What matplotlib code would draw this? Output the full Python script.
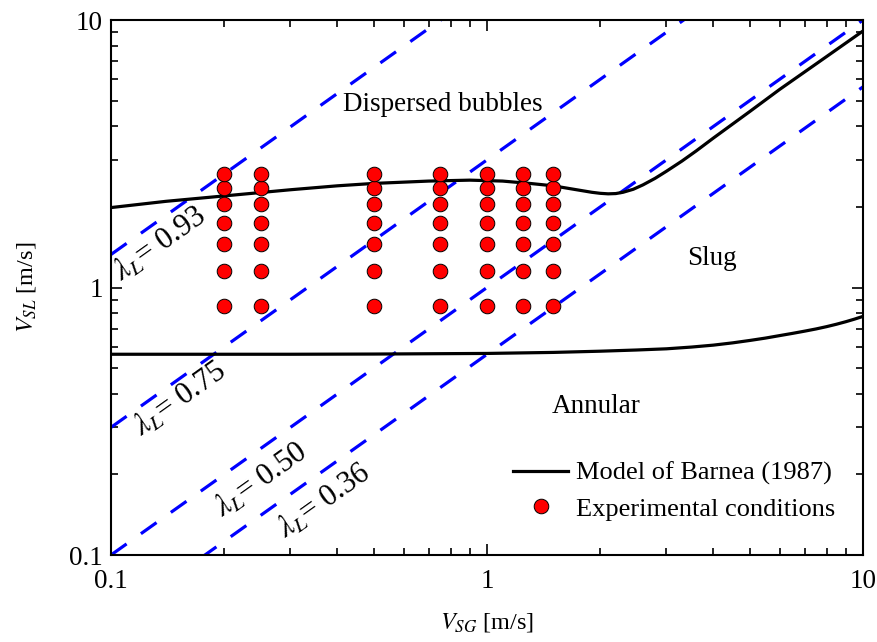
import numpy as np
import matplotlib
matplotlib.use("Agg")
import matplotlib.pyplot as plt

plt.rcParams["font.family"] = ["Liberation Serif", "DejaVu Serif"]
plt.rcParams["mathtext.fontset"] = "stix"
plt.rcParams["font.size"] = 19.5

# === Donnees
vsg_exp = [0.2, 0.25, 0.5, 0.75, 1.0, 1.25, 1.5]
vsl_exp = [0.85, 1.15, 1.45, 1.75, 2.05, 2.35, 2.65]

# frontiere bulles dispersees / slug
upper_vsg = [0.1, 0.14, 0.2, 0.3, 0.4, 0.5, 0.7, 0.9, 1.1, 1.3, 1.5, 1.7,
             1.9, 2.0, 2.1, 2.2, 2.3, 2.45, 2.6, 2.8, 3.0, 3.3, 3.6, 4.0,
             5.0, 6.0, 8.0, 10.0]
upper_vsl = [1.99, 2.1, 2.2, 2.32, 2.4, 2.45, 2.5, 2.52, 2.5, 2.45, 2.4, 2.33,
             2.27, 2.25, 2.24, 2.245, 2.27, 2.33, 2.42, 2.56, 2.72, 2.97, 3.24, 3.62,
             4.55, 5.5, 7.3, 9.1]

# frontiere slug / annulaire
lower_vsg = [0.1, 0.3, 0.5, 1.0, 1.5, 2.0, 2.5, 3.0, 3.5, 4.0, 4.5, 5.0,
             5.5, 6.0, 6.5, 7.0, 7.5, 8.0, 8.5, 9.0, 9.5, 10.0]
lower_vsl = [0.563, 0.563, 0.564, 0.567, 0.572, 0.578, 0.584, 0.59, 0.599, 0.609,
             0.621, 0.634, 0.647, 0.661, 0.674, 0.687, 0.70, 0.714, 0.729, 0.745,
             0.762, 0.78]

# lignes iso-lambda_L
lambdas = [0.93, 0.75, 0.50, 0.36]
lambda_labels = ["0.93", "0.75", "0.50", "0.36"]
label_pos = [(0.065, 0.58), (0.092, 0.29), (0.2, 0.14), (0.283, 0.101)]

# === Figure
fig = plt.figure(figsize=(8.78, 6.42), dpi=100)
ax = fig.add_axes([0.1264, 0.1355, 0.8565, 0.8333])

xl = np.array([0.1, 10.0])
for lam in lambdas:
    ax.plot(xl, xl * lam / (1 - lam), color="blue", lw=2.3,
            dashes=(6, 5.5), zorder=2)

ax.plot(upper_vsg, upper_vsl, color="black", lw=2.3, zorder=3,
        label="Model of Barnea (1987)")
ax.plot(lower_vsg, lower_vsl, color="black", lw=2.3, zorder=3)

X, Y = np.meshgrid(vsg_exp, vsl_exp)
ax.plot(X.ravel(), Y.ravel(), "o", color="red", mec="black", mew=0.7,
        ms=10.5, zorder=4, label="Experimental conditions")

ax.set_xscale("log")
ax.set_yscale("log")
ax.set_xlim(0.1, 10)
ax.set_ylim(0.1, 10)
ax.set_xticks([0.1, 1, 10])
ax.set_xticklabels(["0.1", "1", "10"])
ax.set_yticks([0.1, 1, 10])
ax.set_yticklabels(["0.1", "1", "10"])
ax.tick_params(which="both", direction="in", top=True, right=True, width=1.2)
ax.tick_params(which="major", length=8, pad=6)
ax.tick_params(axis="x", which="major", pad=10)
ax.tick_params(which="minor", length=5)
for s in ax.spines.values():
    s.set_linewidth(1.5)

ax.set_xlabel(r"$V_{SG}$ [m/s]", fontsize=17.5, labelpad=12)
ax.set_ylabel(r"$V_{SL}$ [m/s]", fontsize=17.5, labelpad=22)

# annotations
for (fx, fy), txt in zip(label_pos, lambda_labels):
    ax.text(fx, fy, r"$\lambda_L$= " + txt, transform=ax.transAxes,
            rotation=35.5, ha="center", va="center", fontsize=22,
            rotation_mode="anchor")

ax.text(0.441, 0.843, "Dispersed bubbles", transform=ax.transAxes,
        ha="center", va="center")
ax.text(0.799, 0.555, "Slug", transform=ax.transAxes, ha="center", va="center")
ax.text(0.645, 0.277, "Annular", transform=ax.transAxes, ha="center", va="center")

ax.legend(loc="lower right", bbox_to_anchor=(0.995, 0.02), frameon=False,
          fontsize=19, handlelength=2.1, handletextpad=0.3, labelspacing=0.45)

plt.savefig("out.png", dpi=100)
